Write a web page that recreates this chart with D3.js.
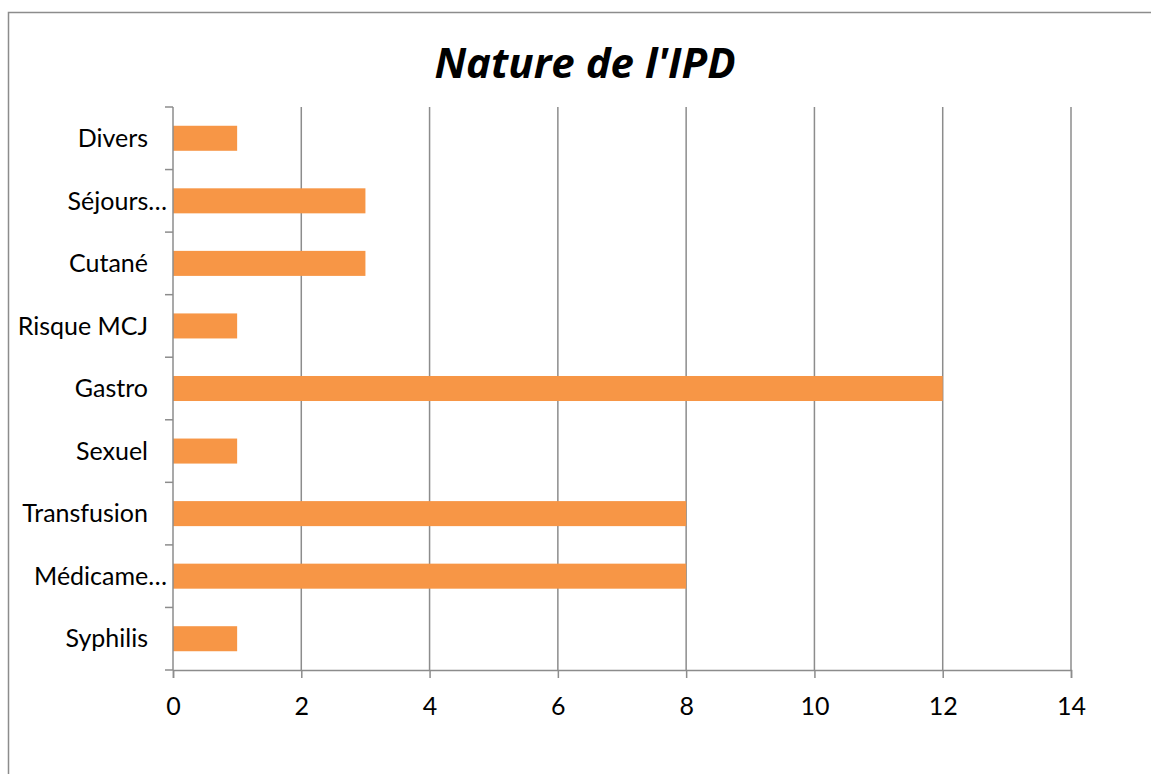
<!DOCTYPE html>
<html>
<head>
<meta charset="utf-8">
<script src="https://cdn.jsdelivr.net/npm/d3@7"></script>
<style>
  body { margin: 0; background: #fff; }
  text { font-family: Lato, "Open Sans", sans-serif; fill: #000; }
</style>
</head>
<body>
<div id="chart"></div>
<script>
var width = 1151;
var height = 774;

// data (top to bottom)
var categories = ["Divers", "Séjours…", "Cutané", "Risque MCJ", "Gastro", "Sexuel", "Transfusion", "Médicame…", "Syphilis"];
var values = [1, 3, 3, 1, 12, 1, 8, 8, 1];
var xTicks = [0, 2, 4, 6, 8, 10, 12, 14];

var margin = {top: 107, right: 80, bottom: 104, left: 173};

var svg = d3.select("#chart")
    .append("svg")
    .attr("width", width)
    .attr("height", height);

// chart frame
svg.append("rect")
    .attr("x", 8.5)
    .attr("y", 12.5)
    .attr("width", width)
    .attr("height", height)
    .attr("fill", "none")
    .attr("stroke", "#8c8c8c")
    .attr("stroke-width", 1.5);

svg.append("text")
    .attr("x", 585)
    .attr("y", 78)
    .attr("text-anchor", "middle")
    .style("font-family", "'Open Sans', Lato, sans-serif")
    .style("font-size", "42px")
    .style("font-weight", "bold")
    .style("font-style", "italic")
    .text("Nature de l'IPD");

var x = d3.scaleLinear()
    .domain([0, 14])
    .range([margin.left, 1071]);

var y = d3.scaleBand()
    .domain(categories)
    .range([margin.top, 670])
    .paddingInner(0.6)
    .paddingOuter(0.3);

var gridColor = "#8c8c8c";

// vertical gridlines
svg.append("g")
    .selectAll("line")
    .data(xTicks.filter(function(d){ return d > 0; }))
    .enter().append("line")
    .attr("x1", function(d){ return x(d); })
    .attr("x2", function(d){ return x(d); })
    .attr("y1", margin.top)
    .attr("y2", 670)
    .attr("stroke", gridColor)
    .attr("stroke-width", 1.5);

// bars
svg.append("g")
    .selectAll("rect")
    .data(values)
    .enter().append("rect")
    .attr("x", x(0))
    .attr("y", function(d, i){ return y(categories[i]); })
    .attr("width", function(d){ return x(d) - x(0); })
    .attr("height", y.bandwidth())
    .attr("fill", "#F79646");

// x axis
var xAxis = svg.append("g")
    .attr("transform", "translate(0,670)")
    .call(d3.axisBottom(x).tickValues(xTicks).tickSize(8).tickPadding(19));
xAxis.select(".domain").attr("stroke", gridColor).attr("stroke-width", 1.5);
xAxis.selectAll(".tick line").attr("stroke", gridColor).attr("stroke-width", 1.5);
xAxis.selectAll(".tick text")
    .style("font-family", "Lato, 'Open Sans', sans-serif")
    .style("font-size", "25px");

// y axis line with ticks at band boundaries
var bounds = d3.range(categories.length + 1).map(function(i){ return margin.top + i * (670 - margin.top) / categories.length; });
svg.append("line")
    .attr("x1", x(0)).attr("x2", x(0))
    .attr("y1", margin.top).attr("y2", 670)
    .attr("stroke", gridColor).attr("stroke-width", 1.5);
svg.append("g")
    .selectAll("line")
    .data(bounds)
    .enter().append("line")
    .attr("x1", x(0) - 8).attr("x2", x(0))
    .attr("y1", function(d){ return d; })
    .attr("y2", function(d){ return d; })
    .attr("stroke", gridColor).attr("stroke-width", 1.5);

// category labels
svg.append("g")
    .selectAll("text")
    .data(categories)
    .enter().append("text")
    .attr("x", function(d){ return d.slice(-1) == "…" ? 167 : 148; })
    .attr("y", function(d){ return y(d) + y.bandwidth() / 2; })
    .attr("dy", "0.35em")
    .attr("text-anchor", "end")
    .style("font-size", "25px")
    .text(function(d){ return d; });
</script>
</body>
</html>
